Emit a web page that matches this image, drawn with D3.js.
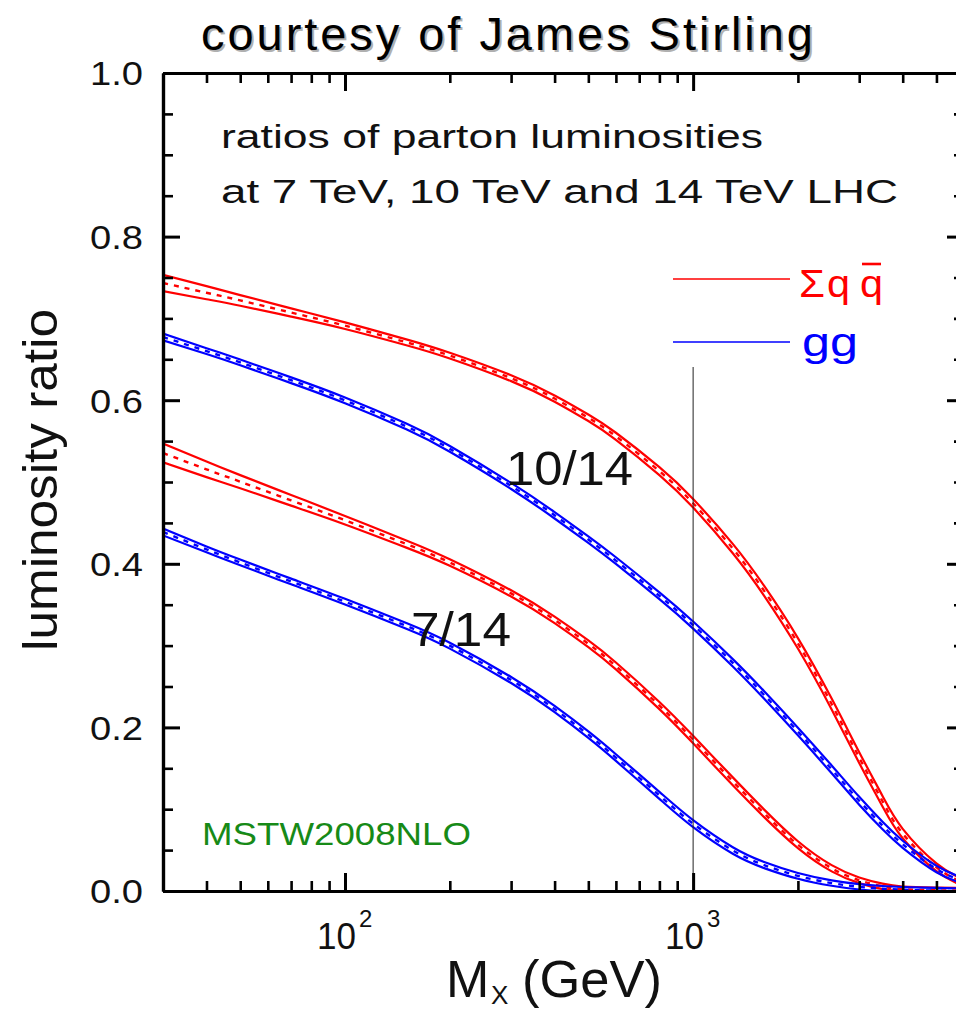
<!DOCTYPE html>
<html>
<head>
<meta charset="utf-8">
<script src="https://cdn.jsdelivr.net/npm/d3@7"></script>
<style>
  html, body { margin: 0; padding: 0; background: #fff; }
  svg { display: block; }
  text { font-family: "Liberation Sans", Arial, Helvetica, sans-serif; }
</style>
</head>
<body>
<svg id="chart" width="956" height="1009"></svg>
<script>
// ---------------- data ----------------
const massGeV = [30, 40, 50, 70, 100, 150, 200, 300, 400, 500, 600, 800, 1000, 1300, 1600, 2000, 2500, 3000, 3500, 4000, 5000, 6000];

// sum q-qbar luminosity ratio 10 TeV / 14 TeV (central) and half band width
const qq10over14 = [0.7433, 0.7314, 0.7220, 0.7072, 0.6911, 0.6708, 0.6545, 0.6269, 0.6020, 0.5785, 0.5559, 0.5133, 0.4740, 0.4186, 0.3669, 0.3028, 0.2286, 0.1631, 0.1097, 0.0702, 0.0290, 0.0098];
const qq10over14Err = [0.010, 0.008, 0.0065, 0.005, 0.004, 0.0036, 0.0035, 0.0036, 0.0038, 0.004, 0.0043, 0.0048, 0.0052, 0.0057, 0.006, 0.0064, 0.0066, 0.0066, 0.0064, 0.0058, 0.0048, 0.0038];

// gg luminosity ratio 10 TeV / 14 TeV
const gg10over14 = [0.6773, 0.6600, 0.6462, 0.6244, 0.5998, 0.5679, 0.5405, 0.4952, 0.4593, 0.4296, 0.4039, 0.3609, 0.3251, 0.2790, 0.2396, 0.1950, 0.1487, 0.1103, 0.0800, 0.0571, 0.0269, 0.0122];
const gg10over14Err = [0.0042, 0.0036, 0.0035, 0.0035, 0.0035, 0.0035, 0.0036, 0.0037, 0.0039, 0.004, 0.0041, 0.0042, 0.0043, 0.0045, 0.0046, 0.0047, 0.0048, 0.0048, 0.0046, 0.0043, 0.0039, 0.0035];

// sum q-qbar luminosity ratio 7 TeV / 14 TeV
const qq7over14 = [0.5355, 0.5155, 0.5004, 0.4776, 0.4533, 0.4242, 0.4016, 0.3638, 0.3314, 0.3022, 0.2751, 0.2267, 0.1851, 0.1341, 0.0949, 0.0566, 0.0278, 0.0131, 0.0056, 0.0022, 0.0009, 0.0004];
const qq7over14Err = [0.0115, 0.0095, 0.008, 0.0065, 0.0052, 0.0044, 0.004, 0.0038, 0.004, 0.0041, 0.0042, 0.0044, 0.0046, 0.0048, 0.0046, 0.0042, 0.0038, 0.0035, 0.0034, 0.0033, 0.0033, 0.0033];

// gg luminosity ratio 7 TeV / 14 TeV
const gg7over14 = [0.4389, 0.4176, 0.4017, 0.3784, 0.3537, 0.3241, 0.2999, 0.2579, 0.2224, 0.1911, 0.1631, 0.1169, 0.0823, 0.0495, 0.0317, 0.0185, 0.0097, 0.0051, 0.0028, 0.0016, 0.0004, 0.0000];
const gg7over14Err = [0.0042, 0.0036, 0.0035, 0.0035, 0.0035, 0.0035, 0.0036, 0.0037, 0.0038, 0.004, 0.0041, 0.0043, 0.0043, 0.004, 0.0037, 0.0035, 0.0033, 0.0033, 0.0033, 0.0033, 0.0033, 0.0033];

const yMajorTicks = [0.0, 0.2, 0.4, 0.6, 0.8, 1.0];
const yMinorTicks = [0.05, 0.1, 0.15, 0.25, 0.3, 0.35, 0.45, 0.5, 0.55, 0.65, 0.7, 0.75, 0.85, 0.9, 0.95];
const xMajorTicks = [100, 1000];
const xMajorExponents = ["2", "3"];
const xMinorTicks = [40, 50, 60, 70, 80, 90, 200, 300, 400, 500, 600, 700, 800, 900, 2000, 3000, 4000, 5000];

const seriesList = [
  { name: "qq 10/14", values: qq10over14, err: qq10over14Err, color: "#ff0000" },
  { name: "gg 10/14", values: gg10over14, err: gg10over14Err, color: "#0000ff" },
  { name: "qq 7/14", values: qq7over14, err: qq7over14Err, color: "#ff0000" },
  { name: "gg 7/14", values: gg7over14, err: gg7over14Err, color: "#0000ff" }
];

// ---------------- layout ----------------
const svg = d3.select("#chart");
const x = d3.scaleLog().domain([30, 6000]).range([163, 964]);
const y = d3.scaleLinear().domain([0, 1]).range([891, 73]);

svg.append("defs").append("clipPath").attr("id", "plotclip")
  .append("rect").attr("x", x(30)).attr("y", y(1)).attr("width", x(6000) - x(30)).attr("height", y(0) - y(1));

// ---------------- curves ----------------
const line = d3.line().x(d => x(d[0])).y(d => y(Math.max(0, d[1]))).curve(d3.curveNatural);
const curves = svg.append("g").attr("clip-path", "url(#plotclip)");
seriesList.forEach(s => {
  const up = massGeV.map((m, i) => [m, s.values[i] + s.err[i]]);
  const lo = massGeV.map((m, i) => [m, s.values[i] - s.err[i]]);
  const mid = massGeV.map((m, i) => [m, s.values[i]]);
  curves.append("path").attr("d", line(up)).attr("fill", "none").attr("stroke", s.color).attr("stroke-width", 2.2);
  curves.append("path").attr("d", line(lo)).attr("fill", "none").attr("stroke", s.color).attr("stroke-width", 2.2);
  curves.append("path").attr("d", line(mid)).attr("fill", "none").attr("stroke", s.color).attr("stroke-width", 2.4)
    .attr("stroke-dasharray", "5,6");
});

// vertical reference line at 1 TeV
svg.append("line").attr("x1", x(1000)).attr("x2", x(1000)).attr("y1", 367).attr("y2", y(0))
  .attr("stroke", "#222").attr("stroke-width", 1);

// ---------------- axes ----------------
function styleAxis(g, w) {
  g.select(".domain").attr("stroke", "#000").attr("stroke-width", 3.2);
  g.selectAll(".tick line").attr("stroke", "#000").attr("stroke-width", w);
}
const gLeft = svg.append("g").attr("transform", `translate(${x(30)},0)`)
  .call(d3.axisLeft(y).tickValues(yMajorTicks).tickSize(-17).tickSizeOuter(0).tickPadding(20).tickFormat(d3.format(".1f")));
styleAxis(gLeft, 3);
gLeft.selectAll(".tick text").attr("font-size", 33).attr("fill", "#111")
  .attr("font-family", "Liberation Sans, Arial, sans-serif")
  .attr("textLength", 53).attr("lengthAdjust", "spacingAndGlyphs").attr("dy", "0.36em");
svg.append("g").attr("transform", `translate(${x(30)},0)`)
  .call(d3.axisLeft(y).tickValues(yMinorTicks).tickSize(-10).tickSizeOuter(0).tickFormat(""))
  .call(g => styleAxis(g, 2.6));
svg.append("g").attr("transform", `translate(${x(6000)},0)`)
  .call(d3.axisRight(y).tickValues(yMajorTicks).tickSize(-17).tickSizeOuter(0).tickFormat(""))
  .call(g => styleAxis(g, 3));
svg.append("g").attr("transform", `translate(${x(6000)},0)`)
  .call(d3.axisRight(y).tickValues(yMinorTicks).tickSize(-10).tickSizeOuter(0).tickFormat(""))
  .call(g => styleAxis(g, 2.6));
svg.append("g").attr("transform", `translate(0,${y(0)})`)
  .call(d3.axisBottom(x).tickValues(xMajorTicks).tickSize(-18).tickSizeOuter(0).tickFormat(""))
  .call(g => styleAxis(g, 3));
svg.append("g").attr("transform", `translate(0,${y(0)})`)
  .call(d3.axisBottom(x).tickValues(xMinorTicks).tickSize(-10).tickSizeOuter(0).tickFormat(""))
  .call(g => styleAxis(g, 2.6));
svg.append("g").attr("transform", `translate(0,${y(1)})`)
  .call(d3.axisTop(x).tickValues(xMajorTicks).tickSize(-18).tickSizeOuter(0).tickFormat(""))
  .call(g => styleAxis(g, 3));
svg.append("g").attr("transform", `translate(0,${y(1)})`)
  .call(d3.axisTop(x).tickValues(xMinorTicks).tickSize(-10).tickSizeOuter(0).tickFormat(""))
  .call(g => styleAxis(g, 2.6));

// x tick labels 10^n
xMajorTicks.forEach((v, i) => {
  const cx = x(v);
  svg.append("text").attr("x", cx - 28).attr("y", 949)
    .attr("font-size", 36).attr("fill", "#111")
    .attr("textLength", 39).attr("lengthAdjust", "spacingAndGlyphs").text("10");
  svg.append("text").attr("x", cx + 14).attr("y", 927).attr("font-size", 24).attr("fill", "#111")
    .text(xMajorExponents[i]);
});

// ---------------- texts ----------------
const titleText = "courtesy of James Stirling";
svg.append("text").attr("x", 203).attr("y", 52).attr("font-size", 47).attr("fill", "#b0b0b0")
  .attr("font-family", "DejaVu Sans, sans-serif").attr("textLength", 612).attr("lengthAdjust", "spacing").text(titleText);
svg.append("text").attr("x", 201).attr("y", 50).attr("font-size", 47).attr("fill", "#000")
  .attr("font-family", "DejaVu Sans, sans-serif").attr("textLength", 612).attr("lengthAdjust", "spacing").text(titleText);

svg.append("text").attr("x", 221).attr("y", 148).attr("font-size", 34).attr("fill", "#111")
  .attr("textLength", 542).attr("lengthAdjust", "spacingAndGlyphs").text("ratios of parton luminosities");
svg.append("text").attr("x", 221).attr("y", 203).attr("font-size", 34).attr("fill", "#111")
  .attr("textLength", 677).attr("lengthAdjust", "spacingAndGlyphs").text("at 7 TeV, 10 TeV and 14 TeV LHC");

svg.append("text").attr("transform", "translate(57,480) rotate(-90)").attr("text-anchor", "middle")
  .attr("font-size", 48).attr("fill", "#111").attr("textLength", 342).attr("lengthAdjust", "spacingAndGlyphs")
  .text("luminosity ratio");
svg.append("text").attr("x", 446).attr("y", 997).attr("font-size", 52).attr("fill", "#111").text("M");
svg.append("text").attr("x", 491).attr("y", 1004).attr("font-size", 26).attr("fill", "#111").text("X");
svg.append("text").attr("x", 522).attr("y", 997).attr("font-size", 52).attr("fill", "#111")
  .attr("textLength", 140).attr("lengthAdjust", "spacingAndGlyphs").text("(GeV)");

svg.append("text").attr("x", 506).attr("y", 485).attr("font-size", 48).attr("fill", "#111")
  .attr("textLength", 127).attr("lengthAdjust", "spacingAndGlyphs").text("10/14");
svg.append("text").attr("x", 411).attr("y", 646).attr("font-size", 48).attr("fill", "#111")
  .attr("textLength", 100).attr("lengthAdjust", "spacingAndGlyphs").text("7/14");

// legend
svg.append("line").attr("x1", 673).attr("x2", 790).attr("y1", 279).attr("y2", 279).attr("stroke", "#ff0000").attr("stroke-width", 1.5);
svg.append("line").attr("x1", 673).attr("x2", 790).attr("y1", 342).attr("y2", 342).attr("stroke", "#0000ff").attr("stroke-width", 1.5);
const legendQ = [["Σ", 799, 26], ["q", 827, 23], ["q", 860, 23]];
legendQ.forEach(([t, px, w]) => {
  svg.append("text").attr("x", px).attr("y", 297).attr("font-size", 38).attr("fill", "#ff0000")
    .attr("textLength", w).attr("lengthAdjust", "spacingAndGlyphs").text(t);
});
svg.append("line").attr("x1", 862).attr("x2", 881).attr("y1", 264).attr("y2", 264).attr("stroke", "#ff0000").attr("stroke-width", 2.6);
svg.append("text").attr("x", 802).attr("y", 356).attr("font-size", 40).attr("fill", "#0000ff")
  .attr("textLength", 56).attr("lengthAdjust", "spacingAndGlyphs").text("gg");

svg.append("text").attr("x", 202).attr("y", 845).attr("font-size", 32).attr("fill", "#178a17")
  .attr("textLength", 269).attr("lengthAdjust", "spacingAndGlyphs").text("MSTW2008NLO");
</script>
</body>
</html>
